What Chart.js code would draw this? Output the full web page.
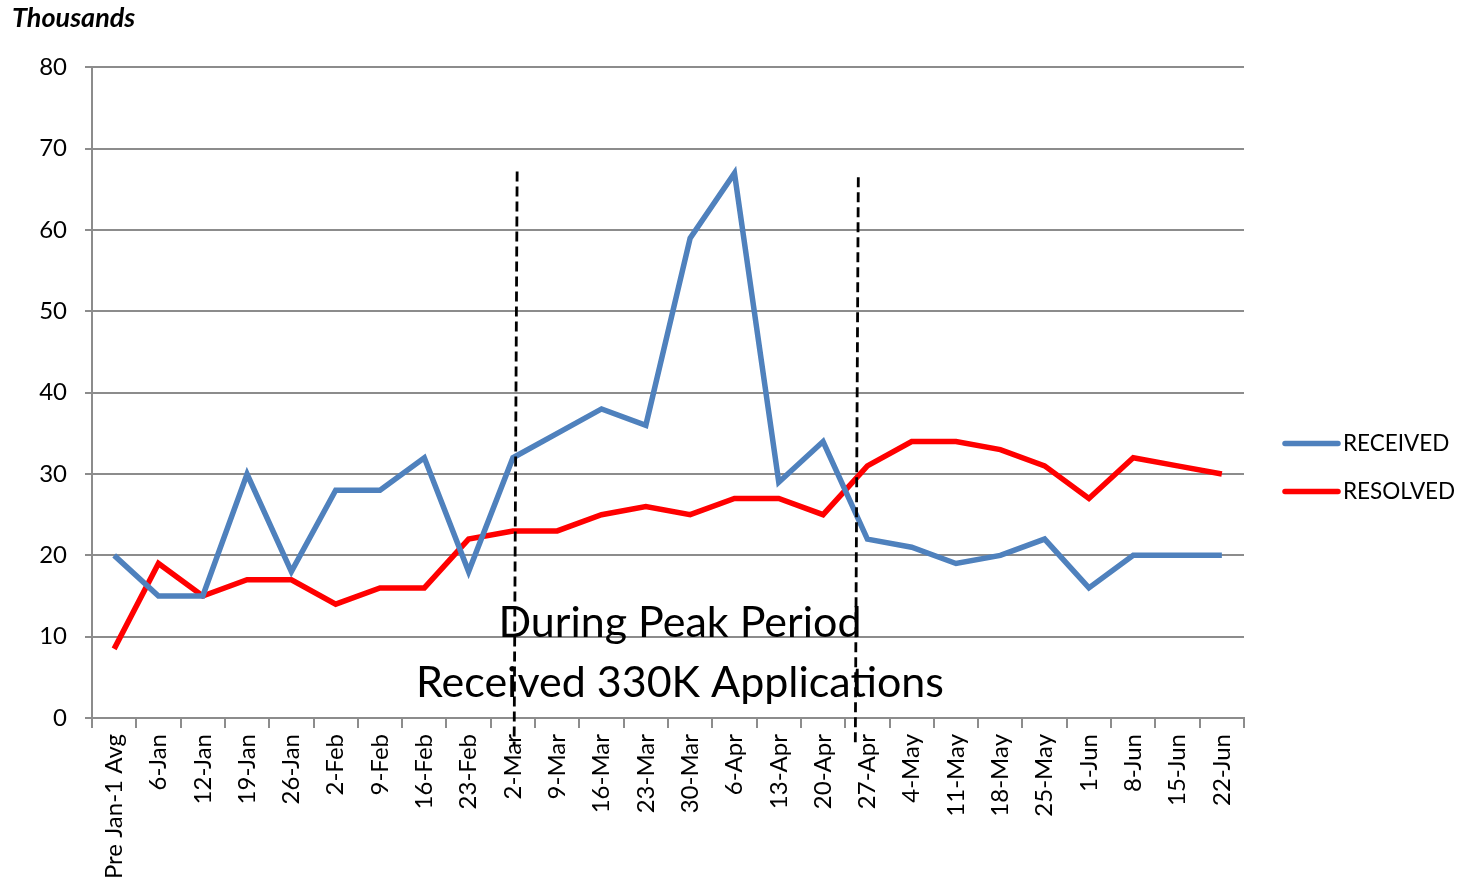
<!DOCTYPE html>
<html>
<head>
<meta charset="utf-8">
<script src="https://cdn.jsdelivr.net/npm/chart.js@4.4.0/dist/chart.umd.min.js"></script>
<style>
  html, body { margin: 0; padding: 0; background: #fff; }
  #wrap { width: 1464px; height: 881px; }
</style>
</head>
<body>
<div id="wrap"><canvas id="peakchart"></canvas></div>
<script>
// weeks on the x axis
var weeks = ["Pre Jan-1 Avg", "6-Jan", "12-Jan", "19-Jan", "26-Jan", "2-Feb", "9-Feb", "16-Feb",
    "23-Feb", "2-Mar", "9-Mar", "16-Mar", "23-Mar", "30-Mar", "6-Apr", "13-Apr", "20-Apr",
    "27-Apr", "4-May", "11-May", "18-May", "25-May", "1-Jun", "8-Jun", "15-Jun", "22-Jun"];

// thousands of applications
var received = [20, 15, 15, 30, 18, 28, 28, 32, 18, 32, 35, 38, 36, 59, 67, 29, 34,
    22, 21, 19, 20, 22, 16, 20, 20, 20];
var resolved = [8.5, 19, 15, 17, 17, 14, 16, 16, 22, 23, 23, 25, 26, 25, 27, 27, 25,
    31, 34, 34, 33, 31, 27, 32, 31, 30];

var yTicks = [0, 10, 20, 30, 40, 50, 60, 70, 80];

// peak period markers (category positions) and note
var peakStart = 9.05;
var peakEnd = 16.75;
var peakNote = ["During Peak Period", "Received 330K Applications"];

var FONT = "Lato, 'Open Sans', sans-serif";

// dashed markers + note text
var peakPlugin = {
    id: "peakPlugin",
    afterDatasetsDraw: function (chart) {
        var ctx = chart.ctx;
        var x = chart.scales.x, y = chart.scales.y;
        ctx.save();
        ctx.strokeStyle = "#000";
        ctx.lineWidth = 2.8;
        ctx.setLineDash([10, 5]);
        [[peakStart, 67.2], [peakEnd, 66.5]].forEach(function (m) {
            var px = x.getPixelForValue(m[0]);
            ctx.beginPath();
            ctx.moveTo(px + 2, y.getPixelForValue(m[1]));
            ctx.lineTo(px - 1, y.getPixelForValue(0) + 27);
            ctx.stroke();
        });
        ctx.setLineDash([]);
        ctx.fillStyle = "#000";
        ctx.textAlign = "center";
        ctx.textBaseline = "alphabetic";
        ctx.font = "43px " + FONT;
        var cx = x.getPixelForValue(12.77);
        ctx.fillText(peakNote[0], cx, y.getPixelForValue(9.9));
        ctx.fillText(peakNote[1], cx, y.getPixelForValue(2.6));
        ctx.restore();
    }
};

// legend on the right, Excel style
var sideLegend = {
    id: "sideLegend",
    afterDraw: function (chart) {
        var ctx = chart.ctx;
        var left = chart.chartArea.right + 41;
        var rows = [chart.chartArea.top + 376, chart.chartArea.top + 424];
        ctx.save();
        chart.data.datasets.forEach(function (ds, i) {
            ctx.strokeStyle = ds.borderColor;
            ctx.lineWidth = 5.5;
            ctx.lineCap = "round";
            ctx.beginPath();
            ctx.moveTo(left, rows[i]);
            ctx.lineTo(left + 53, rows[i]);
            ctx.stroke();
            ctx.fillStyle = "#000";
            ctx.font = "22.5px " + FONT;
            ctx.textBaseline = "middle";
            ctx.textAlign = "left";
            ctx.fillText(ds.label, left + 58, rows[i]);
        });
        ctx.restore();
    }
};

var ctx = document.getElementById("peakchart").getContext("2d");
var peakChart = new Chart(ctx, {
    type: "line",
    data: {
        labels: weeks,
        datasets: [
            {
                label: "RECEIVED",
                data: received,
                borderColor: "#4F81BD",
                borderWidth: 5.5,
                pointRadius: 0,
                tension: 0,
                fill: false
            },
            {
                label: "RESOLVED",
                data: resolved,
                borderColor: "#FF0000",
                borderWidth: 5.5,
                pointRadius: 0,
                tension: 0,
                fill: false
            }
        ]
    },
    options: {
        responsive: true,
        maintainAspectRatio: false,
        animation: false,
        layout: { padding: { left: 12, right: 220, top: 0, bottom: 0 } },
        plugins: {
            legend: { display: false },
            tooltip: { enabled: false },
            title: {
                display: true,
                text: "Thousands",
                align: "start",
                color: "#000",
                font: { family: FONT, size: 27, weight: "bold", style: "italic", lineHeight: 1.2 },
                padding: { top: 2, bottom: 33 }
            }
        },
        scales: {
            x: {
                offset: true,
                grid: {
                    offset: true,
                    drawOnChartArea: false,
                    color: "#8c8c8c",
                    lineWidth: 2,
                    tickLength: 10
                },
                border: { color: "#8c8c8c", width: 2 },
                ticks: {
                    autoSkip: false,
                    maxRotation: 90,
                    minRotation: 90,
                    padding: 6,
                    color: "#000",
                    font: { family: FONT, size: 24 }
                },
                afterFit: function (scale) { scale.height = 163; }
            },
            y: {
                min: 0,
                max: 80,
                afterBuildTicks: function (scale) {
                    scale.ticks = yTicks.map(function (v) { return { value: v }; });
                },
                grid: { color: "#8c8c8c", lineWidth: 2, tickLength: 7 },
                border: { color: "#8c8c8c", width: 2 },
                ticks: {
                    padding: 18,
                    color: "#000",
                    font: { family: FONT, size: 24 }
                },
                afterFit: function (scale) { scale.width = 80; }
            }
        }
    },
    plugins: [peakPlugin, sideLegend]
});
</script>
</body>
</html>
